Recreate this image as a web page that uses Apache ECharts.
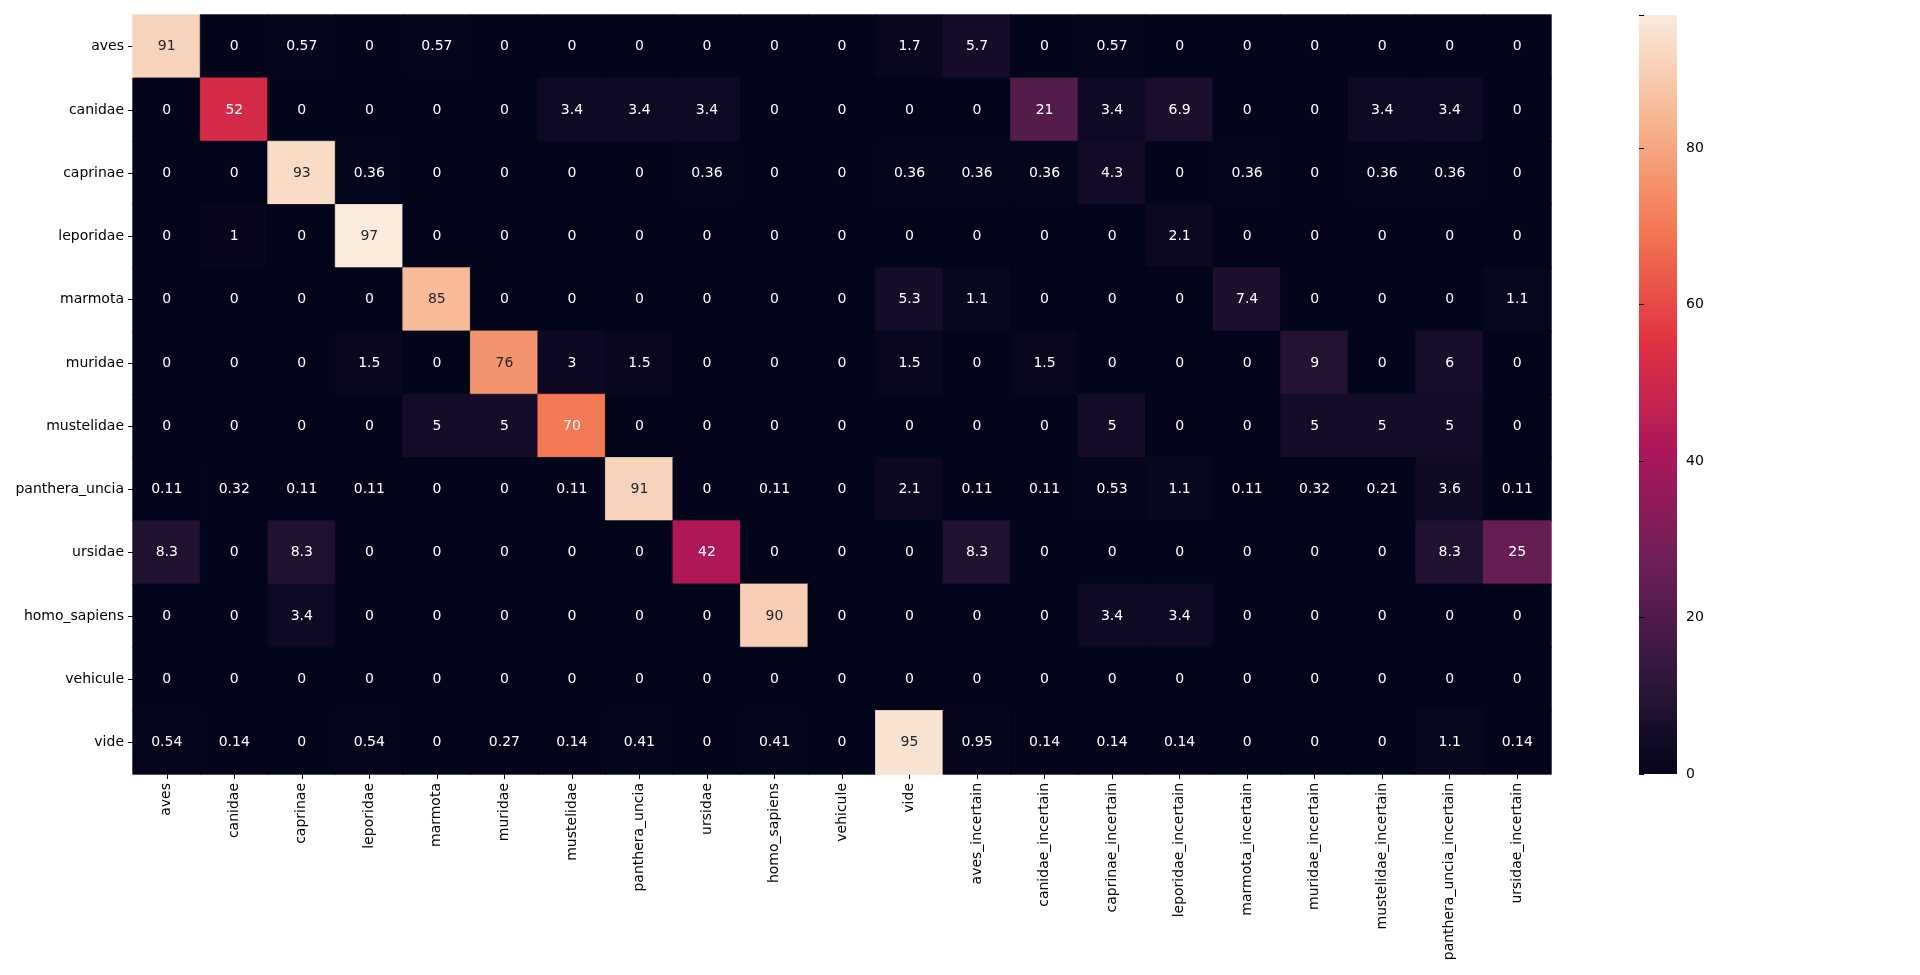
<!DOCTYPE html>
<html>
<head>
<meta charset="utf-8">
<script src="https://cdn.jsdelivr.net/npm/echarts@6/dist/echarts.min.js"></script>
<style>html,body{margin:0;padding:0;background:#fff}#c{width:1920px;height:975px}</style>
</head>
<body>
<div id="c"></div>
<script>
const rowLabels = ['aves','canidae','caprinae','leporidae','marmota','muridae','mustelidae','panthera_uncia','ursidae','homo_sapiens','vehicule','vide'];
const colLabels = ['aves','canidae','caprinae','leporidae','marmota','muridae','mustelidae','panthera_uncia','ursidae','homo_sapiens','vehicule','vide','aves_incertain','canidae_incertain','caprinae_incertain','leporidae_incertain','marmota_incertain','muridae_incertain','mustelidae_incertain','panthera_uncia_incertain','ursidae_incertain'];

const row_aves          = [91,0,0.57,0,0.57,0,0,0,0,0,0,1.7,5.7,0,0.57,0,0,0,0,0,0];
const row_canidae       = [0,52,0,0,0,0,3.4,3.4,3.4,0,0,0,0,21,3.4,6.9,0,0,3.4,3.4,0];
const row_caprinae      = [0,0,93,0.36,0,0,0,0,0.36,0,0,0.36,0.36,0.36,4.3,0,0.36,0,0.36,0.36,0];
const row_leporidae     = [0,1,0,97,0,0,0,0,0,0,0,0,0,0,0,2.1,0,0,0,0,0];
const row_marmota       = [0,0,0,0,85,0,0,0,0,0,0,5.3,1.1,0,0,0,7.4,0,0,0,1.1];
const row_muridae       = [0,0,0,1.5,0,76,3,1.5,0,0,0,1.5,0,1.5,0,0,0,9,0,6,0];
const row_mustelidae    = [0,0,0,0,5,5,70,0,0,0,0,0,0,0,5,0,0,5,5,5,0];
const row_panthera      = [0.11,0.32,0.11,0.11,0,0,0.11,91,0,0.11,0,2.1,0.11,0.11,0.53,1.1,0.11,0.32,0.21,3.6,0.11];
const row_ursidae       = [8.3,0,8.3,0,0,0,0,0,42,0,0,0,8.3,0,0,0,0,0,0,8.3,25];
const row_homo_sapiens  = [0,0,3.4,0,0,0,0,0,0,90,0,0,0,0,3.4,3.4,0,0,0,0,0];
const row_vehicule      = [0,0,0,0,0,0,0,0,0,0,0,0,0,0,0,0,0,0,0,0,0];
const row_vide          = [0.54,0.14,0,0.54,0,0.27,0.14,0.41,0,0.41,0,95,0.95,0.14,0.14,0.14,0,0,0,1.1,0.14];

const rows = [row_aves,row_canidae,row_caprinae,row_leporidae,row_marmota,row_muridae,row_mustelidae,row_panthera,row_ursidae,row_homo_sapiens,row_vehicule,row_vide];

const colorbarTicks = [0,20,40,60,80];
const vmin = 0, vmax = 97;

// rocket colormap stops
const rocketStops = ['#03051a','#35193e','#701f57','#ad1759','#e13342','#f37651','#f6b48f','#faebdd'];

function hexToRgb(h){return [parseInt(h.slice(1,3),16),parseInt(h.slice(3,5),16),parseInt(h.slice(5,7),16)];}
function colorAt(t){
  t = Math.max(0, Math.min(1, t));
  const n = rocketStops.length - 1;
  const p = t * n; const i = Math.min(n - 1, Math.floor(p)); const f = p - i;
  const a = hexToRgb(rocketStops[i]), b = hexToRgb(rocketStops[i+1]);
  return [0,1,2].map(k => a[k] + (b[k]-a[k])*f);
}
function lum(rgb){
  const c = rgb.map(v => { v/=255; return v <= 0.03928 ? v/12.92 : Math.pow((v+0.055)/1.055, 2.4); });
  return 0.2126*c[0] + 0.7152*c[1] + 0.0722*c[2];
}

const data = [];
rows.forEach((r, yi) => r.forEach((v, xi) => {
  const rgb = colorAt((v - vmin)/(vmax - vmin));
  const l = lum(rgb);
  const css = 'rgb(' + rgb.map(Math.round).join(',') + ')';
  data.push({value:[xi, yi, v],
    itemStyle:{borderColor:css, borderWidth:0.8},
    label:{color: l > 0.408 ? '#262626' : '#ffffff'}});
}));

// colorbar gradient (top = max)
const n = rocketStops.length - 1;
const colorbarGradient = {type:'linear', x:0, y:0, x2:0, y2:1,
  colorStops: rocketStops.map((c, i) => ({offset: 1 - i/n, color: c})).reverse()};

const FONT = 'DejaVu Sans';
const chart = echarts.init(document.getElementById('c'));
chart.setOption({
  animation:false,
  textStyle:{fontFamily:FONT},
  grid:[
    {left:133, right:369, top:15, bottom:201, containLabel:false},
    {left:1639, width:38, top:15, bottom:201, containLabel:false,
     show:true, backgroundColor:colorbarGradient, borderWidth:0, borderColor:'rgba(0,0,0,0)'}
  ],
  xAxis:[
    {type:'category', gridIndex:0, data:colLabels, position:'bottom',
     axisLine:{show:false}, axisTick:{show:true, alignWithLabel:true, length:5, lineStyle:{color:'#000'}},
     axisLabel:{rotate:90, interval:0, margin:9, fontSize:14, color:'#000', fontFamily:FONT},
     splitLine:{show:false}, splitArea:{show:false}},
    {type:'value', gridIndex:1, min:0, max:1, show:false,
     axisLine:{show:false}, axisTick:{show:false}, axisLabel:{show:false}, splitLine:{show:false}}
  ],
  yAxis:[
    {type:'category', gridIndex:0, data:rowLabels, inverse:true,
     axisLine:{show:false}, axisTick:{show:true, alignWithLabel:true, length:5, lineStyle:{color:'#000'}},
     axisLabel:{interval:0, margin:9, fontSize:14, color:'#000', fontFamily:FONT},
     splitLine:{show:false}, splitArea:{show:false}},
    {type:'value', gridIndex:1, min:vmin, max:vmax, interval:20, position:'right', offset:0,
     axisLine:{show:false}, axisTick:{show:true, inside:false, length:5, lineStyle:{color:'#000'}},
     axisLabel:{inside:false, margin:9, fontSize:14, color:'#000', fontFamily:FONT,
       formatter: v => colorbarTicks.indexOf(v) >= 0 ? String(v) : ''},
     minorTick:{show:false}, splitLine:{show:false}, splitArea:{show:false}}
  ],
  visualMap:{
    type:'continuous', min:vmin, max:vmax, seriesIndex:0, show:false,
    inRange:{color:rocketStops}
  },
  series:[
    {type:'heatmap', xAxisIndex:0, yAxisIndex:0, data:data,
     label:{show:true, fontSize:14, fontFamily:FONT,
       formatter: p => String(p.value[2])},
     emphasis:{disabled:true}}
  ]
});
</script>
</body>
</html>
